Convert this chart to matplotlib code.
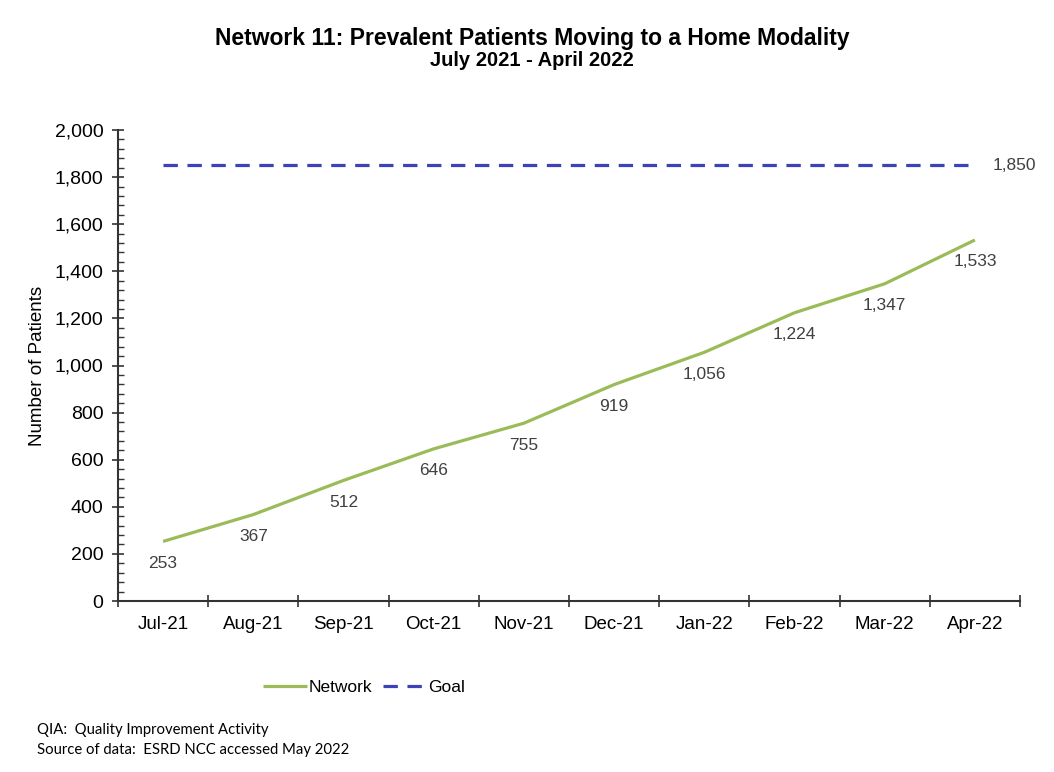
import matplotlib
matplotlib.use("Agg")
import matplotlib.pyplot as plt
from matplotlib.ticker import MultipleLocator, FuncFormatter

months = ["Jul-21", "Aug-21", "Sep-21", "Oct-21", "Nov-21", "Dec-21",
          "Jan-22", "Feb-22", "Mar-22", "Apr-22"]
network = [253, 367, 512, 646, 755, 919, 1056, 1224, 1347, 1533]
goal = [1850] * 10

plt.rcParams['font.family'] = ['Liberation Sans', 'DejaVu Sans']

fig = plt.figure(figsize=(10.54, 7.72), dpi=100)
ax = fig.add_axes([118/1054, 1-601/772, (1020-118)/1054, (601-130)/772])

x = list(range(len(months)))
ax.plot(x, network, color="#9BBB59", lw=2.3, label="Network", solid_capstyle='butt')
ax.plot(x, goal, color="#3C42B8", lw=2.3, ls=(0, (4.5, 3)), label="Goal")

for xi, v in zip(x, network):
    ax.annotate(f"{v:,}", (xi, v), xytext=(0, -22), textcoords='offset pixels',
                ha='center', va='center', fontsize=12.5, color="#404040")
ax.annotate(f"{goal[-1]:,}", (x[-1], goal[-1]), xytext=(18, 0), textcoords='offset pixels',
            ha='left', va='center', fontsize=12.5, color="#404040")

ax.set_xlim(-0.5, len(months) - 0.5)
ax.set_ylim(0, 2000)
ax.set_xticks([i - 0.5 for i in range(len(months) + 1)])
ax.set_xticklabels([])
ax.set_xticks(x, minor=True)
ax.set_xticklabels(months, minor=True, fontsize=13.5)
ax.tick_params(axis='x', which='major', direction='inout', length=9, width=1.2, color='#333333')
ax.tick_params(axis='x', which='minor', length=0, pad=11)

ax.yaxis.set_major_locator(MultipleLocator(200))
ax.yaxis.set_minor_locator(MultipleLocator(40))
ax.yaxis.set_major_formatter(FuncFormatter(lambda v, p: f"{int(v):,}"))
ax.tick_params(axis='y', which='major', direction='inout', length=9, width=1.2,
               color='#333333', labelsize=14, pad=6)
ax.tick_params(axis='y', which='minor', direction='in', length=4, width=1, color='#333333')

for s in ['top', 'right']:
    ax.spines[s].set_visible(False)
for s in ['left', 'bottom']:
    ax.spines[s].set_color('#333333')
    ax.spines[s].set_linewidth(1.5)

ax.set_ylabel("Number of Patients", fontsize=13.5, labelpad=6)

fig.text(0.505, 1-38/772, "Network 11: Prevalent Patients Moving to a Home Modality",
         ha='center', va='center', fontsize=16.5, fontweight='bold')
fig.text(0.505, 1-61/772, "July 2021 - April 2022",
         ha='center', va='center', fontsize=14.5, fontweight='bold')

fig.legend(loc='center', bbox_to_anchor=(364/1054, 1-687/772), ncol=2, frameon=False,
           fontsize=12.5, handlelength=2.5, columnspacing=0.6, handletextpad=0.1)

fig.text(37/1054, 1-730/772, "QIA:  Quality Improvement Activity",
         ha='left', va='center', fontsize=10.7, family=['Lato', 'DejaVu Sans'])
fig.text(37/1054, 1-750/772, "Source of data:  ESRD NCC accessed May 2022",
         ha='left', va='center', fontsize=10.7, family=['Lato', 'DejaVu Sans'])

fig.savefig("out.png", dpi=100)
